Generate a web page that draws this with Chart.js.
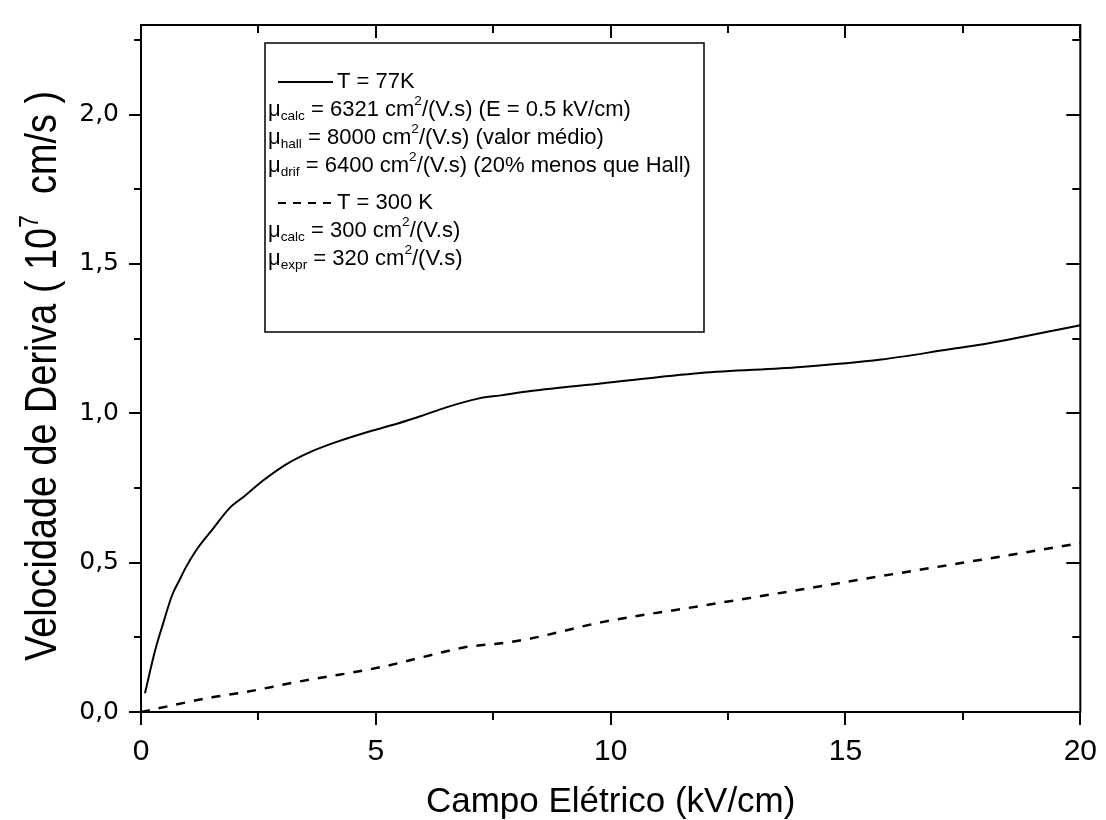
<!DOCTYPE html>
<html>
<head>
<meta charset="utf-8">
<script src="https://cdn.jsdelivr.net/npm/chart.js@4.4.1/dist/chart.umd.min.js"></script>
<style>
  html, body { margin: 0; padding: 0; background: #fff; }
  #box { width: 1106px; height: 820px; }
</style>
</head>
<body>
<div id="box"><canvas id="myChart"></canvas></div>
<script>
// T = 77K (linha cheia)
const campo77 = [0.085, 0.3, 0.47, 0.66, 0.83, 0.94, 1.19, 1.54, 1.9, 2.18, 2.6, 3.1, 3.6, 4.18, 4.88, 5.45, 5.95, 6.5, 7.2, 7.65, 8.3, 9.79, 11.92, 14.05, 15.76, 17.25, 17.9, 20];
const vel77 = [0.063, 0.206, 0.296, 0.39, 0.445, 0.48, 0.545, 0.615, 0.685, 0.72, 0.775, 0.83, 0.87, 0.905, 0.94, 0.965, 0.99, 1.02, 1.05, 1.06, 1.075, 1.10, 1.135, 1.155, 1.18, 1.215, 1.23, 1.295];
// T = 300K (tracejada)
const campo300 = [0, 1.54, 2.2, 3.3, 5.1, 6.16, 6.87, 7.8, 8.3, 9.79, 11.92, 14.05, 15.76, 17.9, 20];
const vel300 = [0, 0.05, 0.066, 0.10, 0.15, 0.19, 0.216, 0.233, 0.246, 0.30, 0.355, 0.41, 0.455, 0.51, 0.565];

const xTicks = [0, 5, 10, 15, 20];
const xMinor = [2.5, 7.5, 12.5, 17.5];
const yTicks = [0, 0.5, 1.0, 1.5, 2.0];
const yMinor = [0.25, 0.75, 1.25, 1.75, 2.25];

const fonte = '"Liberation Sans", Arial, sans-serif';

function pontos(xs, ys) {
  return xs.map((x, i) => ({ x: x, y: ys[i] }));
}

// texto com sub/superescrito
function textoRico(ctx, x, y, partes, tam) {
  partes.forEach(p => {
    let t = p[0], tipo = p[1] || '';
    let dy = 0, sz = tam;
    if (tipo === 'sub') { sz = tam * 0.62; dy = tam * 0.28; }
    if (tipo === 'sup') { sz = tam * 0.62; dy = -tam * 0.42; }
    ctx.font = sz + 'px ' + fonte;
    ctx.fillText(t, x, y + dy);
    x += ctx.measureText(t).width;
  });
  return x;
}

const molduraPlugin = {
  id: 'moldura',
  beforeDraw(chart) {
    const ctx = chart.ctx;
    ctx.save();
    ctx.fillStyle = '#fff';
    ctx.fillRect(0, 0, chart.width, chart.height);
    ctx.restore();
  },
  afterDraw(chart) {
    const ctx = chart.ctx;
    const a = chart.chartArea;
    const sx = chart.scales.x, sy = chart.scales.y;
    ctx.save();
    ctx.strokeStyle = '#000';
    ctx.lineWidth = 2;
    ctx.strokeRect(a.left, a.top, a.right - a.left, a.bottom - a.top);

    ctx.beginPath();
    xTicks.concat(xMinor).forEach(v => {
      const px = Math.round(sx.getPixelForValue(v));
      const maior = xTicks.includes(v);
      ctx.moveTo(px, a.bottom); ctx.lineTo(px, a.bottom + (maior ? 13 : 8));
      ctx.moveTo(px, a.top); ctx.lineTo(px, a.top + (maior ? 13 : 8));
    });
    yTicks.concat(yMinor).forEach(v => {
      const py = Math.round(sy.getPixelForValue(v));
      const maior = yTicks.includes(v);
      ctx.moveTo(a.left, py); ctx.lineTo(a.left - (maior ? 12 : 7), py);
      ctx.moveTo(a.right, py); ctx.lineTo(a.right - (maior ? 14 : 8), py);
    });
    ctx.stroke();

    // titulo do eixo x
    ctx.fillStyle = '#000';
    ctx.textBaseline = 'alphabetic';
    ctx.textAlign = 'center';
    ctx.font = '35px ' + fonte;
    ctx.fillText('Campo Elétrico (kV/cm)', (a.left + a.right) / 2, 812);

    // titulo do eixo y (rotacionado)
    ctx.save();
    ctx.translate(56, 376);
    ctx.rotate(-Math.PI / 2);
    ctx.textAlign = 'left';
    const tamY = 44;
    const partesY = [['Velocidade de Deriva ( 10'], ['7', 'sup'], ['  cm/s )']];
    let larg = 0;
    partesY.forEach(p => {
      ctx.font = (p[1] ? tamY * 0.62 : tamY) + 'px ' + fonte;
      larg += ctx.measureText(p[0]).width;
    });
    const alvo = 570;
    ctx.scale(alvo / larg, 1);
    textoRico(ctx, -larg / 2, 0, partesY, tamY);
    ctx.restore();

    // legenda
    const bx = 265, by = 43, bw = 439, bh = 289;
    ctx.lineWidth = 1.5;
    ctx.strokeRect(bx, by, bw, bh);
    ctx.textAlign = 'left';
    ctx.textBaseline = 'middle';
    const tam = 22;
    const x0 = 268;
    const linhas = [
      [82, 'solida', [['T = 77K']]],
      [110, null, [['μ'], ['calc', 'sub'], [' = 6321 cm'], ['2', 'sup'], ['/(V.s) (E = 0.5 kV/cm)']]],
      [138, null, [['μ'], ['hall', 'sub'], [' = 8000 cm'], ['2', 'sup'], ['/(V.s) (valor médio)']]],
      [166, null, [['μ'], ['drif', 'sub'], [' = 6400 cm'], ['2', 'sup'], ['/(V.s) (20% menos que Hall)']]],
      [203, 'trac', [['T = 300 K']]],
      [231, null, [['μ'], ['calc', 'sub'], [' = 300 cm'], ['2', 'sup'], ['/(V.s)']]],
      [259, null, [['μ'], ['expr', 'sub'], [' = 320 cm'], ['2', 'sup'], ['/(V.s)']]]
    ];
    linhas.forEach(l => {
      let x = x0;
      if (l[1]) {
        ctx.beginPath();
        ctx.lineWidth = 2;
        if (l[1] === 'trac') ctx.setLineDash([8, 7]); else ctx.setLineDash([]);
        ctx.moveTo(278, l[0]); ctx.lineTo(333, l[0]);
        ctx.stroke();
        ctx.setLineDash([]);
        x = 337;
      }
      textoRico(ctx, x, l[0], l[2], tam);
    });
    ctx.restore();
  }
};

const config = {
  type: 'scatter',
  data: {
    datasets: [
      {
        label: 'T = 77K',
        data: pontos(campo77, vel77),
        showLine: true,
        borderColor: '#000',
        borderWidth: 2,
        pointRadius: 0,
        cubicInterpolationMode: 'monotone'
      },
      {
        label: 'T = 300 K',
        data: pontos(campo300, vel300),
        showLine: true,
        borderColor: '#000',
        borderWidth: 2.5,
        borderDash: [9, 9],
        pointRadius: 0,
        cubicInterpolationMode: 'monotone'
      }
    ]
  },
  options: {
    responsive: false,
    animation: false,
    devicePixelRatio: 1,
    layout: { padding: { top: 15, right: 25, left: 0, bottom: 0 } },
    plugins: { legend: { display: false }, tooltip: { enabled: false } },
    scales: {
      x: {
        type: 'linear', min: 0, max: 20,
        afterBuildTicks: s => { s.ticks = xTicks.map(v => ({ value: v })); },
        afterFit: s => { s.height = 108; },
        grid: { display: true, drawOnChartArea: false, drawTicks: true, tickLength: 13, color: 'rgba(0,0,0,0)' },
        border: { display: false },
        ticks: { color: '#000', font: { family: fonte, size: 30 }, padding: 9, maxRotation: 0, callback: v => String(v) }
      },
      y: {
        type: 'linear', min: 0, max: 2.3,
        afterBuildTicks: s => { s.ticks = yTicks.map(v => ({ value: v })); },
        afterFit: s => { s.width = 141; },
        grid: { display: true, drawOnChartArea: false, drawTicks: true, tickLength: 12, color: 'rgba(0,0,0,0)' },
        border: { display: false },
        ticks: { color: '#000', font: { family: '"DejaVu Sans", sans-serif', size: 25 }, padding: 10, callback: v => v.toFixed(1).replace('.', ',') }
      }
    }
  },
  plugins: [molduraPlugin]
};

const canvas = document.getElementById('myChart');
canvas.width = 1106;
canvas.height = 820;
const myChart = new Chart(canvas, config);
</script>
</body>
</html>
